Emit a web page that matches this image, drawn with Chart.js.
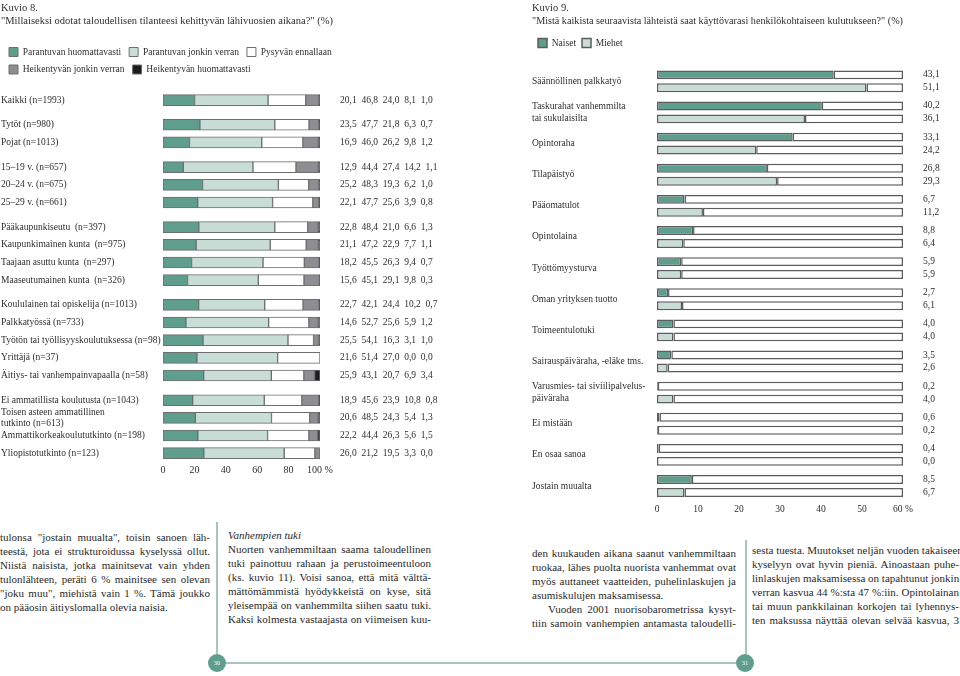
<!DOCTYPE html>
<html lang="fi">
<head>
<meta charset="UTF-8">
<title>Kuvio 8 ja 9</title>
<script src="https://cdn.jsdelivr.net/npm/chart.js"></script>
<style>
    body { margin: 0; width: 960px; height: 676px; overflow: hidden; background: #fff; position: relative;
           font-family: "Liberation Serif", serif; color: #2a2a2a; }
    #leftChart { position: absolute; left: 0; top: 0; }
    #rightChart { position: absolute; left: 480px; top: 0; }
    .col { position: absolute; font-size: 11px; line-height: 14px; }
    .col div { text-align: justify; text-align-last: justify; white-space: nowrap; }
    .col div.end { text-align-last: left; }
    .col div.ind { padding-left: 16px; }
    .col i { font-style: italic; }
    .vrule { position: absolute; width: 1.5px; background: #a9c4bc; }
    .hrule { position: absolute; height: 1.5px; background: #a9c4bc; }
    .pagenum { position: absolute; width: 18px; height: 18px; border-radius: 50%; background: #5f9e8c;
               color: #fff; font-size: 6px; line-height: 18px; text-align: center; }
</style>
</head>
<body>
<canvas id="leftChart" width="470" height="482"></canvas>
<canvas id="rightChart" width="480" height="520"></canvas>

<div class="col" style="left:0; top:530px; width:210px;">
    <div>tulonsa "jostain muualta", toisin sanoen läh-</div>
    <div>teestä, jota ei strukturoidussa kyselyssä ollut.</div>
    <div>Niistä naisista, jotka mainitsevat vain yhden</div>
    <div>tulonlähteen, peräti 6 % mainitsee sen olevan</div>
    <div>"joku muu", miehistä vain 1 %. Tämä joukko</div>
    <div class="end">on pääosin äitiyslomalla olevia naisia.</div>
</div>
<div class="col" style="left:228px; top:528px; width:203px;">
    <div class="end"><i>Vanhempien tuki</i></div>
    <div>Nuorten vanhemmiltaan saama taloudellinen</div>
    <div>tuki painottuu rahaan ja perustoimeentuloon</div>
    <div>(ks. kuvio 11). Voisi sanoa, että mitä välttä-</div>
    <div>mättömämmistä hyödykkeistä on kyse, sitä</div>
    <div>yleisempää on vanhemmilta siihen saatu tuki.</div>
    <div>Kaksi kolmesta vastaajasta on viimeisen kuu-</div>
</div>
<div class="col" style="left:532px; top:546px; width:204px;">
    <div>den kuukauden aikana saanut vanhemmiltaan</div>
    <div>ruokaa, lähes puolta nuorista vanhemmat ovat</div>
    <div>myös auttaneet vaatteiden, puhelinlaskujen ja</div>
    <div class="end">asumiskulujen maksamisessa.</div>
    <div class="ind">Vuoden 2001 nuorisobarometrissa kysyt-</div>
    <div>tiin samoin vanhempien antamasta taloudelli-</div>
</div>
<div class="col" style="left:752px; top:543px; width:207px;">
    <div>sesta tuesta. Muutokset neljän vuoden takaiseen</div>
    <div>kyselyyn ovat hyvin pieniä. Ainoastaan puhe-</div>
    <div>linlaskujen maksamisessa on tapahtunut jonkin</div>
    <div>verran kasvua 44 %:sta 47 %:iin. Opintolainan</div>
    <div>tai muun pankkilainan korkojen tai lyhennys-</div>
    <div>ten maksussa näyttää olevan selvää kasvua, 3</div>
</div>

<div class="vrule" style="left:216px; top:522px; height:132px;"></div>
<div class="vrule" style="left:745px; top:540px; height:114px;"></div>
<div class="hrule" style="left:226px; top:662px; width:254px;"></div>
<div class="hrule" style="left:480px; top:662px; width:256px;"></div>
<div class="pagenum" style="left:208px; top:654px;">30</div>
<div class="pagenum" style="left:736px; top:654px;">31</div>

<script>
    // Kuvio 8
    const groupSizes8 = [1, 2, 3, 4, 5, 4];
    const categories8 = [
        'Kaikki (n=1993)',
        'Tytöt (n=980)', 'Pojat (n=1013)',
        '15–19 v. (n=657)', '20–24 v. (n=675)', '25–29 v. (n=661)',
        'Pääkaupunkiseutu  (n=397)', 'Kaupunkimainen kunta  (n=975)', 'Taajaan asuttu kunta  (n=297)', 'Maaseutumainen kunta  (n=326)',
        'Koululainen tai opiskelija (n=1013)', 'Palkkatyössä (n=733)', 'Työtön tai työllisyyskoulutuksessa (n=98)', 'Yrittäjä (n=37)', 'Äitiys- tai vanhempainvapaalla (n=58)',
        'Ei ammatillista koulutusta (n=1043)', ['Toisen asteen ammatillinen', 'tutkinto (n=613)'], 'Ammattikorkeakoulututkinto (n=198)', 'Yliopistotutkinto (n=123)'
    ];
    const parantuvaHuom = [20.1, 23.5, 16.9, 12.9, 25.2, 22.1, 22.8, 21.1, 18.2, 15.6, 22.7, 14.6, 25.5, 21.6, 25.9, 18.9, 20.6, 22.2, 26.0];
    const parantuvaJonk = [46.8, 47.7, 46.0, 44.4, 48.3, 47.7, 48.4, 47.2, 45.5, 45.1, 42.1, 52.7, 54.1, 51.4, 43.1, 45.6, 48.5, 44.4, 51.2];
    const pysyva        = [24.0, 21.8, 26.2, 27.4, 19.3, 25.6, 21.0, 22.9, 26.3, 29.1, 24.4, 25.6, 16.3, 27.0, 20.7, 23.9, 24.3, 26.3, 19.5];
    const heikentyvaJonk = [8.1, 6.3, 9.8, 14.2, 6.2, 3.9, 6.6, 7.7, 9.4, 9.8, 10.2, 5.9, 3.1, 0.0, 6.9, 10.8, 5.4, 5.6, 3.3];
    const heikentyvaHuom = [1.0, 0.7, 1.2, 1.1, 1.0, 0.8, 1.3, 1.1, 0.7, 0.3, 0.7, 1.2, 1.0, 0.0, 3.4, 0.8, 1.3, 1.5, 0.0];
    // the printed table has a misprint for the last row (bar length matches 51,2)
    const printedOverride = { '18-1': '21,2' };

    // Kuvio 9
    const categories9 = [
        'Säännöllinen palkkatyö', ['Taskurahat vanhemmilta', 'tai sukulaisilta'], 'Opintoraha', 'Tilapäistyö',
        'Pääomatulot', 'Opintolaina', 'Työttömyysturva', 'Oman yrityksen tuotto', 'Toimeentulotuki',
        'Sairauspäiväraha, -eläke tms.', ['Varusmies- tai siviilipalvelus-', 'päiväraha'], 'Ei mistään',
        'En osaa sanoa', 'Jostain muualta'
    ];
    const naiset = [43.1, 40.2, 33.1, 26.8, 6.7, 8.8, 5.9, 2.7, 4.0, 3.5, 0.2, 0.6, 0.4, 8.5];
    const miehet = [51.1, 36.1, 24.2, 29.3, 11.2, 6.4, 5.9, 6.1, 4.0, 2.6, 4.0, 0.2, 0.0, 6.7];
    const axisMax9 = 60;

    const GREEN = '#5f9e8c';
    const LIGHT = '#c9ddd7';
    const GRAY = '#8e8e92';
    const BLACK = '#1c1c1c';
    const TEXT = '#2e2e2e';
    const FONT = 'Liberation Serif';

    const fmt = v => v.toFixed(1).replace('.', ',');

    // row positions: groups are separated by a little extra space
    const GROUP_GAP = 0.4;
    const rowPos = [];
    let row = 0;
    groupSizes8.forEach((n, g) => {
        for (let k = 0; k < n; k++) {
            rowPos.push(row + g * GROUP_GAP);
            row++;
        }
    });

    // adjust the space between legend and plot, and the width the legend may use
    function legendFit(gap, maxW) {
        return {
            id: 'legendFit',
            beforeInit(chart) {
                const origFit = chart.legend.fit;
                chart.legend.fit = function () {
                    if (maxW) this.maxWidth = Math.min(this.maxWidth, maxW);
                    origFit.bind(chart.legend)();
                    this.height += gap;
                };
            },
            afterLayout(chart) {
                if (maxW) {
                    chart.legend.right = chart.legend.left + maxW;
                    chart.legend.width = maxW;
                }
            }
        };
    }

    const rowValues = {
        id: 'rowValues',
        afterDatasetsDraw(chart) {
            const ctx = chart.ctx;
            const series = chart.data.datasets;
            const bars = chart.getDatasetMeta(0).data;
            ctx.save();
            ctx.font = '9.5px "' + FONT + '"';
            ctx.fillStyle = TEXT;
            ctx.textBaseline = 'middle';
            ctx.textAlign = 'left';
            bars.forEach((bar, i) => {
                const txt = series.map((s, d) => printedOverride[i + '-' + d] || fmt(s.data[i].x)).join('  ');
                ctx.fillText(txt, chart.chartArea.right + 20, bar.y);
            });
            ctx.restore();
        }
    };

    const series8 = [
        { label: 'Parantuvan huomattavasti', data: parantuvaHuom, color: GREEN },
        { label: 'Parantuvan jonkin verran', data: parantuvaJonk, color: LIGHT },
        { label: 'Pysyvän ennallaan', data: pysyva, color: '#ffffff' },
        { label: 'Heikentyvän jonkin verran', data: heikentyvaJonk, color: GRAY },
        { label: 'Heikentyvän huomattavasti', data: heikentyvaHuom, color: BLACK }
    ];

    new Chart(document.getElementById('leftChart'), {
        type: 'bar',
        data: {
            datasets: series8.map(s => ({
                label: s.label,
                data: s.data.map((v, i) => ({ x: v, y: rowPos[i] })),
                backgroundColor: s.color,
                borderColor: '#6e6e6e',
                borderWidth: 1,
                borderSkipped: false,
                barThickness: 11
            }))
        },
        options: {
            indexAxis: 'y',
            responsive: false,
            animation: false,
            layout: { padding: { left: 1, right: 0, top: 2, bottom: 4 } },
            scales: {
                x: {
                    stacked: true,
                    min: 0,
                    max: 100,
                    grid: { display: false, drawTicks: false },
                    border: { display: false },
                    ticks: {
                        stepSize: 20,
                        padding: 2,
                        maxRotation: 0,
                        minRotation: 0,
                        color: TEXT,
                        font: { family: FONT, size: 10 },
                        callback: v => v === 100 ? '100 %' : v
                    }
                },
                y: {
                    type: 'linear',
                    stacked: true,
                    reverse: true,
                    offset: false,
                    min: -0.5,
                    max: rowPos[rowPos.length - 1] + 0.5,
                    grid: { display: false, drawTicks: false },
                    border: { display: false },
                    afterBuildTicks: axis => { axis.ticks = rowPos.map(v => ({ value: v })); },
                    afterFit: axis => { axis.width = 162; },
                    ticks: {
                        autoSkip: false,
                        crossAlign: 'far',
                        color: TEXT,
                        font: { family: FONT, size: 9.5 },
                        callback: (v, i) => categories8[i]
                    }
                },
                // empty axis on the right keeps room for the printed values
                side: {
                    type: 'linear',
                    axis: 'y',
                    position: 'right',
                    grid: { display: false, drawTicks: false },
                    border: { display: false },
                    ticks: { display: false },
                    afterFit: axis => { axis.width = 150; }
                }
            },
            plugins: {
                title: {
                    display: true,
                    align: 'start',
                    text: ['Kuvio 8.', '"Millaiseksi odotat taloudellisen tilanteesi kehittyvän lähivuosien aikana?" (%)'],
                    color: TEXT,
                    font: { family: FONT, size: 10.5, weight: 'normal', lineHeight: 1.25 },
                    padding: { top: 0, bottom: 11 }
                },
                legend: {
                    position: 'top',
                    align: 'start',
                    labels: {
                        boxWidth: 9,
                        boxHeight: 9,
                        padding: 8,
                        color: TEXT,
                        font: { family: FONT, size: 9.5 }
                    }
                },
                tooltip: { enabled: false }
            }
        },
        plugins: [rowValues, legendFit(7, 400)]
    });

    const pairValues = {
        id: 'pairValues',
        afterDatasetsDraw(chart) {
            const ctx = chart.ctx;
            ctx.save();
            ctx.font = '9.5px "' + FONT + '"';
            ctx.fillStyle = TEXT;
            ctx.textBaseline = 'middle';
            ctx.textAlign = 'left';
            [0, 1].forEach(d => {
                chart.getDatasetMeta(d).data.forEach((bar, i) => {
                    ctx.fillText(fmt(chart.data.datasets[d].data[i]), chart.chartArea.right + 20, bar.y);
                });
            });
            ctx.restore();
        }
    };

    const track = { backgroundColor: '#ffffff', borderColor: '#5c5c5c', borderWidth: 1.5, borderSkipped: false };

    new Chart(document.getElementById('rightChart'), {
        type: 'bar',
        data: {
            labels: categories9,
            datasets: [
                { label: 'Naiset', data: naiset, stack: 'n', backgroundColor: GREEN, borderColor: '#5c5c5c', borderWidth: 1.5, borderSkipped: false },
                { label: 'Miehet', data: miehet, stack: 'm', backgroundColor: LIGHT, borderColor: '#5c5c5c', borderWidth: 1.5, borderSkipped: false },
                Object.assign({ label: 'rest-n', data: naiset.map(v => axisMax9 - v), stack: 'n' }, track),
                Object.assign({ label: 'rest-m', data: miehet.map(v => axisMax9 - v), stack: 'm' }, track)
            ]
        },
        options: {
            indexAxis: 'y',
            responsive: false,
            animation: false,
            datasets: { bar: { categoryPercentage: 0.83, barPercentage: 0.69 } },
            layout: { padding: { left: 52, right: 57, top: 2, bottom: 3 } },
            scales: {
                x: {
                    stacked: true,
                    min: 0,
                    max: axisMax9,
                    grid: { display: false, drawTicks: false },
                    border: { display: false },
                    ticks: {
                        stepSize: 10,
                        padding: 2,
                        maxRotation: 0,
                        color: TEXT,
                        font: { family: FONT, size: 9.5 },
                        callback: v => v === axisMax9 ? v + ' %' : v
                    }
                },
                y: {
                    stacked: true,
                    grid: { display: false, drawTicks: false },
                    border: { display: false },
                    afterFit: axis => { axis.width = 125; },
                    ticks: {
                        autoSkip: false,
                        crossAlign: 'far',
                        color: TEXT,
                        font: { family: FONT, size: 9.5 }
                    }
                }
            },
            plugins: {
                title: {
                    display: true,
                    align: 'start',
                    text: ['Kuvio 9.', '"Mistä kaikista seuraavista lähteistä saat käyttövarasi henkilökohtaiseen kulutukseen?" (%)'],
                    color: TEXT,
                    font: { family: FONT, size: 10.5, weight: 'normal', lineHeight: 1.25 },
                    padding: { top: 0, bottom: 4 }
                },
                legend: {
                    position: 'top',
                    align: 'start',
                    labels: {
                        boxWidth: 9,
                        boxHeight: 9,
                        padding: 6,
                        color: TEXT,
                        font: { family: FONT, size: 9.5 },
                        filter: item => item.datasetIndex < 2
                    }
                },
                tooltip: { enabled: false }
            }
        },
        plugins: [pairValues, legendFit(8)]
    });
</script>
</body>
</html>
